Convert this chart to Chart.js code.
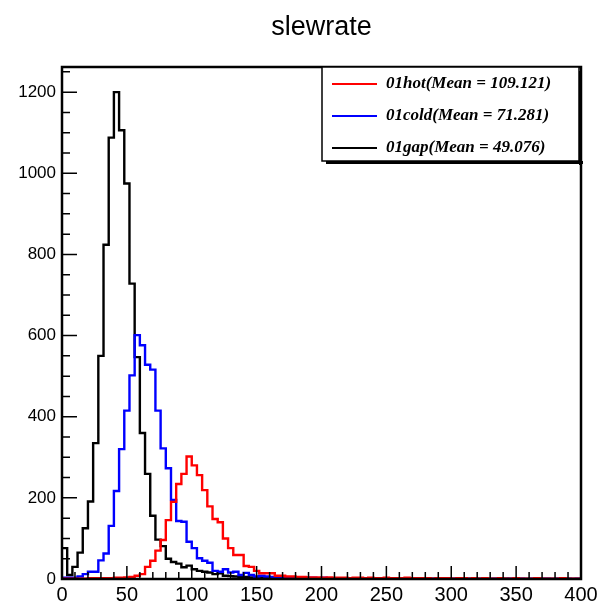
<!DOCTYPE html>
<html>
<head>
<meta charset="utf-8">
<title>slewrate</title>
<script src="https://cdn.jsdelivr.net/npm/chart.js@4.4.1/dist/chart.umd.min.js"></script>
<style>
  html, body { margin: 0; padding: 0; background: #fff; }
</style>
</head>
<body>
<canvas id="myChart" width="603" height="606"></canvas>
<script>

// histogram: 100 bins of width 4, from 0 to 400
const binStart = 0
const binWidth = 4

const hot = [
  1, 1, 1, 1, 1, 2, 2, 2, 2, 2,
  3, 3, 4, 5, 8, 12, 30, 45, 70, 96,
  145, 190, 234, 259, 302, 280, 256, 219, 179, 148,
  140, 100, 76, 59, 59, 32, 30, 20, 14, 14,
  14, 8, 8, 6, 6, 5, 5, 4, 4, 4,
  3, 4, 3, 3, 3, 2, 3, 3, 2, 3,
  2, 2, 3, 2, 2, 2, 3, 2, 2, 2,
  2, 1, 2, 2, 2, 1, 2, 2, 1, 2,
  1, 2, 1, 1, 2, 1, 1, 2, 1, 1,
  1, 2, 1, 1, 1, 1, 2, 1, 1, 1
]

const cold = [
  3, 3, 3, 6, 12, 18, 18, 46, 63, 131,
  217, 320, 415, 502, 601, 576, 528, 516, 415, 322,
  273, 195, 143, 141, 92, 76, 51, 45, 40, 20,
  18, 24, 16, 18, 10, 15, 10, 6, 8, 6,
  5, 5, 4, 4, 4, 3, 3, 3, 3, 2,
  3, 2, 2, 2, 2, 2, 1, 2, 2, 1,
  2, 1, 1, 2, 1, 1, 1, 2, 1, 1,
  1, 1, 1, 1, 1, 1, 1, 0, 1, 1,
  1, 1, 0, 1, 1, 0, 1, 1, 1, 0,
  1, 0, 1, 1, 0, 1, 0, 1, 0, 1
]

const gap = [
  76, 10, 30, 65, 125, 191, 335, 550, 824, 1088,
  1200, 1106, 975, 728, 547, 360, 259, 156, 97, 81,
  50, 42, 38, 29, 33, 24, 20, 18, 16, 12,
  14, 8, 7, 6, 5, 5, 4, 3, 3, 2,
  2, 2, 1, 1, 2, 1, 1, 1, 1, 0,
  1, 1, 0, 1, 0, 0, 1, 0, 0, 0,
  1, 0, 0, 0, 0, 1, 0, 0, 0, 0,
  0, 0, 1, 0, 0, 0, 0, 0, 0, 0,
  0, 0, 0, 0, 0, 1, 0, 0, 0, 0,
  0, 0, 0, 0, 0, 0, 0, 0, 0, 0
]

const seriesNames = ['01hot(Mean = 109.121)', '01cold(Mean = 71.281)', '01gap(Mean = 49.076)']
const seriesColors = ['#ff0000', '#0000ff', '#000000']

const xTicks = [0, 50, 100, 150, 200, 250, 300, 350, 400]
const yTicks = [0, 200, 400, 600, 800, 1000, 1200]

const sansFont = '"Liberation Sans", Arial, Helvetica, sans-serif'
const serifFont = '"Liberation Serif", "Times New Roman", serif'

// bin contents -> points at the left edge of each bin, plus one to close the last bin
function toSteps(values) {
  const pts = values.map((v, i) => ({ x: binStart + i * binWidth, y: v }))
  pts.push({ x: binStart + values.length * binWidth, y: values[values.length - 1] })
  return pts
}

// ROOT style frame with ticks pointing inside
const frame = {
  id: 'frame',
  afterDatasetsDraw(chart) {
    const ctx = chart.ctx
    const a = chart.chartArea
    const xs = chart.scales.x
    const ys = chart.scales.y
    ctx.save()
    ctx.strokeStyle = '#000'
    ctx.lineWidth = 1.5
    ctx.beginPath()
    for (let v = 0; v <= 400; v += 10) {
      const px = xs.getPixelForValue(v)
      const len = v % 50 == 0 ? 13 : 7
      ctx.moveTo(px, a.bottom)
      ctx.lineTo(px, a.bottom - len)
    }
    for (let v = 0; v <= 1250; v += 50) {
      const py = ys.getPixelForValue(v)
      const len = v % 200 == 0 ? 15 : 8
      ctx.moveTo(a.left, py)
      ctx.lineTo(a.left + len, py)
    }
    ctx.stroke()
    ctx.lineWidth = 2.5
    ctx.strokeRect(a.left, a.top, a.right - a.left, a.bottom - a.top)
    ctx.restore()
  }
}

// legend box in the top right corner
const legendBox = {
  id: 'legendBox',
  afterDraw(chart) {
    const ctx = chart.ctx
    const a = chart.chartArea
    const w = 257, h = 94
    const x0 = a.right - w - 2
    const y0 = a.top
    ctx.save()
    ctx.fillStyle = '#000'
    ctx.fillRect(x0 + 4, y0 + h, w, 3)
    ctx.fillRect(x0 + w, y0 + 4, 3, h)
    ctx.fillStyle = '#fff'
    ctx.fillRect(x0, y0, w, h)
    ctx.strokeStyle = '#000'
    ctx.lineWidth = 1.5
    ctx.strokeRect(x0, y0, w, h)
    ctx.font = 'italic bold 17px ' + serifFont
    ctx.textBaseline = 'middle'
    ctx.textAlign = 'left'
    chart.data.datasets.forEach((ds, i) => {
      const y = y0 + 17 + i * 32
      ctx.strokeStyle = ds.borderColor
      ctx.lineWidth = 2
      ctx.beginPath()
      ctx.moveTo(x0 + 10, y)
      ctx.lineTo(x0 + 55, y)
      ctx.stroke()
      ctx.fillStyle = '#000'
      ctx.fillText(ds.label, x0 + 64, y)
    })
    ctx.restore()
  }
}

const canvas = document.getElementById('myChart')
const ctx = canvas.getContext('2d')

const chart = new Chart(ctx, {
  type: 'line',
  data: {
    datasets: [hot, cold, gap].map((vals, i) => ({
      label: seriesNames[i],
      data: toSteps(vals),
      borderColor: seriesColors[i],
      borderWidth: 2.4,
      stepped: 'before',
      pointRadius: 0,
      fill: false
    }))
  },
  options: {
    responsive: false,
    animation: false,
    devicePixelRatio: 1,
    layout: { padding: { left: 0, right: 22, top: 0, bottom: 0 } },
    plugins: {
      legend: { display: false },
      tooltip: { enabled: false },
      title: {
        display: true,
        text: 'slewrate',
        fullSize: false,
        color: '#000',
        font: { family: sansFont, size: 27, weight: 'normal' },
        padding: { top: 11, bottom: 23.6 }
      }
    },
    scales: {
      x: {
        type: 'linear',
        min: 0,
        max: 400,
        grid: { display: false, drawTicks: false },
        border: { display: false },
        ticks: { color: '#000', font: { family: sansFont, size: 20 }, padding: 4, maxRotation: 0, callback: v => String(v) },
        afterBuildTicks: s => { s.ticks = xTicks.map(v => ({ value: v })) },
        afterFit: s => { s.height = 27 }
      },
      y: {
        min: 0,
        max: 1262,
        grid: { display: false, drawTicks: false },
        border: { display: false },
        ticks: { color: '#000', font: { family: sansFont, size: 17 }, padding: 6, callback: v => String(v) },
        afterBuildTicks: s => { s.ticks = yTicks.map(v => ({ value: v })) },
        afterFit: s => { s.width = 62 }
      }
    }
  },
  plugins: [frame, legendBox]
})

</script>
</body>
</html>
